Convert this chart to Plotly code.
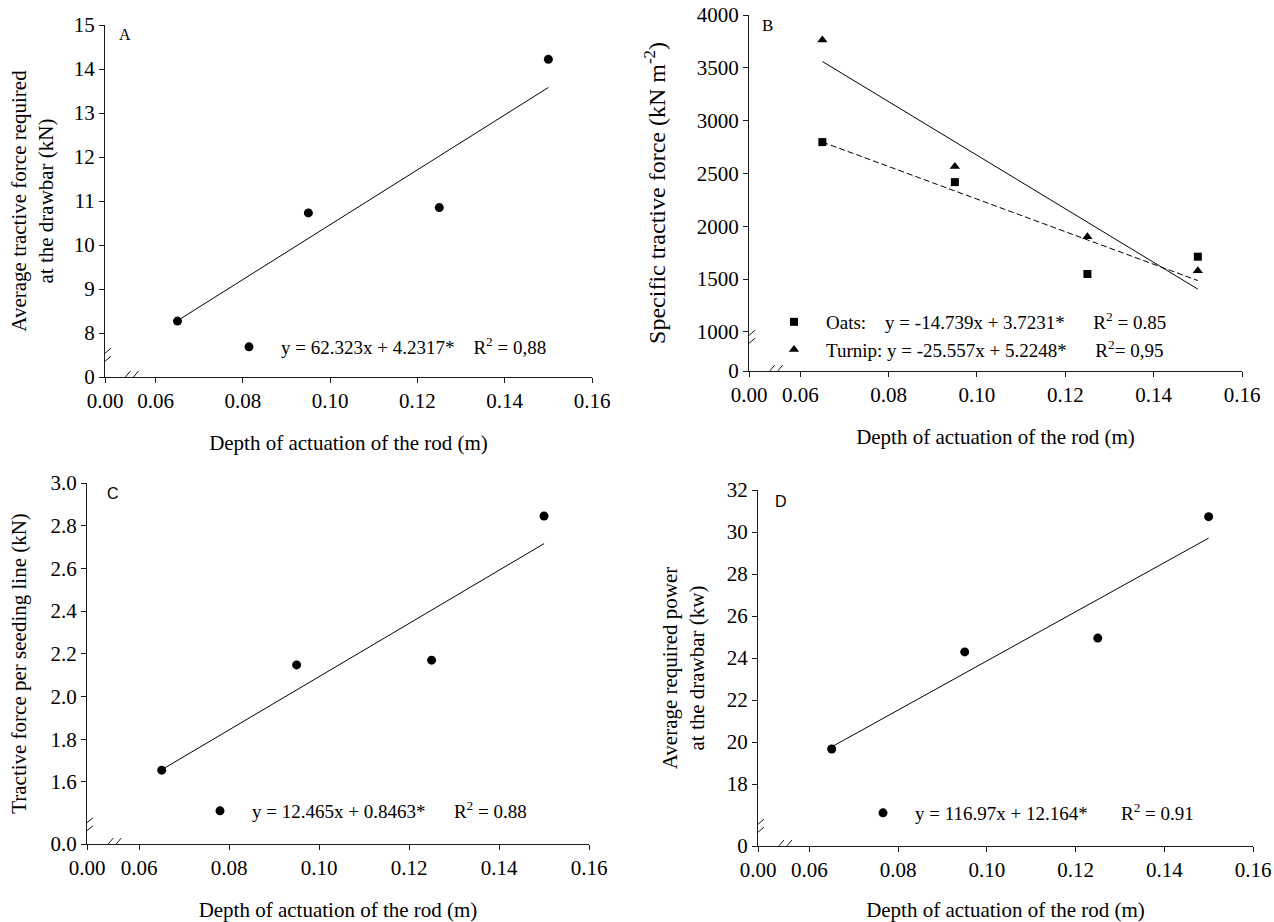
import plotly.graph_objects as go

# ---------------- data ----------------
depth = [0.065, 0.095, 0.125, 0.15]
force_drawbar_A = [8.27, 10.73, 10.85, 14.22]
oats_B = [2797, 2418, 1548, 1712]
turnip_B = [3763, 2567, 1900, 1579]
force_line_C = [1.655, 2.148, 2.17, 2.845]
power_D = [19.67, 24.29, 24.95, 30.73]

fit_x = [0.065, 0.15]
fit_A = [8.28, 13.58]
fit_B_oats = [2797, 1486]
fit_B_turnip = [3560, 1405]
fit_C = [1.657, 2.716]
fit_D = [19.77, 29.71]

x_tickvals = [0.0484, 0.06, 0.08, 0.10, 0.12, 0.14, 0.16]
x_ticktext = ["0.00", "0.06", "0.08", "0.10", "0.12", "0.14", "0.16"]
A_tickvals = [7.0, 8, 9, 10, 11, 12, 13, 14, 15]
A_ticktext = ["0", "8", "9", "10", "11", "12", "13", "14", "15"]
B_tickvals = [630, 1000, 1500, 2000, 2500, 3000, 3500, 4000]
B_ticktext = ["0", "1000", "1500", "2000", "2500", "3000", "3500", "4000"]
C_tickvals = [1.309, 1.6, 1.8, 2.0, 2.2, 2.4, 2.6, 2.8, 3.0]
C_ticktext = ["0.0", "1.6", "1.8", "2.0", "2.2", "2.4", "2.6", "2.8", "3.0"]
D_tickvals = [15.05, 18, 20, 22, 24, 26, 28, 30, 32]
D_ticktext = ["0", "18", "20", "22", "24", "26", "28", "30", "32"]

NB = "\u00a0"
eq_A = "y = 62.323x + 4.2317*" + NB * 4 + "R<sup>2</sup> = 0,88"
eq_B_oats = "Oats:" + NB * 4 + "y = -14.739x + 3.7231*" + NB * 6 + "R<sup>2</sup> = 0.85"
eq_B_turnip = "Turnip: y = -25.557x + 5.2248*" + NB * 6 + "R<sup>2</sup>= 0,95"
eq_C = "y = 12.465x + 0.8463*" + NB * 6 + "R<sup>2</sup> = 0.88"
eq_D = "y = 116.97x + 12.164*" + NB * 7 + "R<sup>2</sup> = 0.91"

x_title = "Depth of actuation of the rod (m)"

SERIF = "Liberation Serif"
INK = "#1a1a1a"
OFF = 0          # body margin is removed below, so the figure fills the view
W, H = 1274, 922

fig = go.Figure()

def dots(x, y, xa, ya, name, legend, symbol="circle", size=9, show=True):
    fig.add_trace(go.Scatter(x=x, y=y, mode="markers", xaxis=xa, yaxis=ya, name=name,
                             legend=legend, showlegend=show,
                             marker=dict(symbol=symbol, size=size, color="black")))

def fitline(x, y, xa, ya, dash="solid"):
    fig.add_trace(go.Scatter(x=x, y=y, mode="lines", xaxis=xa, yaxis=ya, showlegend=False,
                             hoverinfo="skip", line=dict(color="black", width=1, dash=dash)))

# Panel A
dots(depth, force_drawbar_A, "x", "y", eq_A, "legend")
fitline(fit_x, fit_A, "x", "y")
# Panel B
dots(depth, oats_B, "x2", "y2", eq_B_oats, "legend2", symbol="square", size=8)
dots(depth, turnip_B, "x2", "y2", eq_B_turnip, "legend2", symbol="triangle-up", size=9)
fitline(fit_x, fit_B_turnip, "x2", "y2")
fitline(fit_x, fit_B_oats, "x2", "y2", dash="6px,3px")
# Panel C
dots(depth, force_line_C, "x3", "y3", eq_C, "legend3")
fitline(fit_x, fit_C, "x3", "y3")
# Panel D
dots(depth, power_D, "x4", "y4", eq_D, "legend4")
fitline(fit_x, fit_D, "x4", "y4")

# ---------------- panel geometry (screen pixels of the view) ----------------
boxes = {
    "A": (105, 592, 25, 377),
    "B": (749, 1242, 15, 371),
    "C": (87, 589, 483, 844),
    "D": (758, 1253, 490, 846),
}

def px2x(px):
    return (px - OFF) / W

def py2y(py):
    return 1 - (py - OFF) / H

def xdom(b):
    return [px2x(b[0]), px2x(b[1])]

def ydom(b):
    return [py2y(b[3]), py2y(b[2])]

axis_common = dict(showline=True, linecolor=INK, linewidth=1, ticks="outside", ticklen=5,
                   tickcolor=INK, tickwidth=1, showgrid=False, zeroline=False, automargin=False,
                   ticklabeloverflow="allow",
                   tickmode="array", tickfont=dict(family=SERIF, size=21, color="black"))

panels = [
    ("A", "", "y", "x", A_tickvals, A_ticktext, [7.0, 15],
     "Average tractive force required<br>at the drawbar (kN)", 21, 14),
    ("B", "2", "y2", "x2", B_tickvals, B_ticktext, [630, 4000],
     "Specific tractive force (kN m<sup>-2</sup>)", 24, 24),
    ("C", "3", "y3", "x3", C_tickvals, C_ticktext, [1.309, 3.0],
     "Tractive force per seeding line (kN)", 21, 18),
    ("D", "4", "y4", "x4", D_tickvals, D_ticktext, [15.05, 32],
     "Average required power<br>at the drawbar (kw)", 21, 16),
]

layout_axes = {}
for key, sfx, yname, xname, tv, tt, yr, ytitle, ysize, ystand in panels:
    b = boxes[key]
    layout_axes["xaxis" + sfx] = dict(axis_common, domain=xdom(b), anchor=yname,
                                      range=[0.04839, 0.16], tickvals=x_tickvals, ticktext=x_ticktext,
                                      title=dict(text=x_title, standoff=23,
                                                 font=dict(family=SERIF, size=21, color="black")))
    layout_axes["yaxis" + sfx] = dict(axis_common, domain=ydom(b), anchor=xname,
                                      range=[yr[0] - 1e-6 * (yr[1] - yr[0]), yr[1] + 1e-6 * (yr[1] - yr[0])],
                                      tickvals=tv, ticktext=tt,
                                      title=dict(text=ytitle, standoff=ystand,
                                                 font=dict(family=SERIF, size=ysize, color="black")))

# ---------------- axis-break marks ----------------
shapes = []
def breaks(xr, yr, xmin, ymin, xbrk, ybrk):
    ln = dict(color=INK, width=1)
    shapes.append(dict(type="rect", xref=xr, yref=yr, xsizemode="pixel", ysizemode="pixel",
                       xanchor=xmin, yanchor=ybrk, x0=-3, x1=3, y0=-3, y1=3,
                       fillcolor="white", line=dict(width=0), layer="above"))
    for d in (-4, 4):
        shapes.append(dict(type="line", xref=xr, yref=yr, xsizemode="pixel", ysizemode="pixel",
                           xanchor=xmin, yanchor=ybrk, x0=-6, x1=6, y0=d - 5, y1=d + 5,
                           line=ln, layer="above"))
    shapes.append(dict(type="rect", xref=xr, yref=yr, xsizemode="pixel", ysizemode="pixel",
                       xanchor=xbrk, yanchor=ymin, x0=-3, x1=3, y0=-3, y1=3,
                       fillcolor="white", line=dict(width=0), layer="above"))
    for d in (-4, 4):
        shapes.append(dict(type="line", xref=xr, yref=yr, xsizemode="pixel", ysizemode="pixel",
                           xanchor=xbrk, yanchor=ymin, x0=d - 5, x1=d + 5, y0=-6, y1=6,
                           line=ln, layer="above"))

breaks("x", "y", 0.04839, 7.0, 0.054, 7.45)
breaks("x2", "y2", 0.04839, 630, 0.054, 930)
breaks("x3", "y3", 0.04839, 1.309, 0.054, 1.39)
breaks("x4", "y4", 0.04839, 15.05, 0.054, 15.9)

# ---------------- panel letters ----------------
letters = [("A", "x", "y", 12, -10, SERIF, 16),
           ("B", "x2", "y2", 11, -10, SERIF, 17),
           ("C", "x3", "y3", 18, -10, "Liberation Sans", 16),
           ("D", "x4", "y4", 15, -11, "Liberation Sans", 16)]
annotations = []
for txt, xa, ya, dx, dy, fam, sz in letters:
    annotations.append(dict(text=txt, xref=xa + " domain", yref=ya + " domain", x=0, y=1,
                            xanchor="left", yanchor="middle", xshift=dx, yshift=dy,
                            showarrow=False, font=dict(family=fam, size=sz, color="black")))

legend_common = dict(xanchor="left", yanchor="middle", bgcolor="rgba(0,0,0,0)", borderwidth=0,
                     font=dict(family=SERIF, size=19, color="black"), itemwidth=54,
                     tracegroupgap=0, itemclick=False, itemdoubleclick=False)

fig.update_layout(
    width=W, height=H, autosize=False,
    margin=dict(l=0, r=0, t=0, b=0, autoexpand=False),
    paper_bgcolor="white", plot_bgcolor="white",
    font=dict(family=SERIF, color="black"),
    shapes=shapes, annotations=annotations,
    legend=dict(legend_common, x=px2x(217), y=py2y(347)),
    legend2=dict(legend_common, x=px2x(762), y=py2y(336)),
    legend3=dict(legend_common, x=px2x(188), y=py2y(811)),
    legend4=dict(legend_common, x=px2x(851), y=py2y(813)),
    **layout_axes,
)

fig.write_html("out.html",
               config={"displayModeBar": False, "staticPlot": False},
               post_script="document.body.style.margin='0';document.body.style.overflow='hidden';")
